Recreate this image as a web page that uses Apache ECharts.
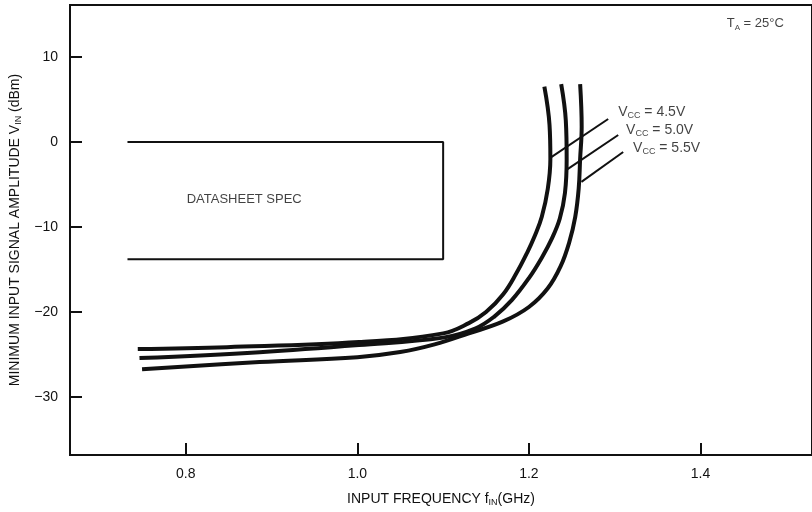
<!DOCTYPE html>
<html>
<head>
<meta charset="utf-8">
<script src="https://cdn.jsdelivr.net/npm/echarts@6/dist/echarts.min.js"></script>
<style>html,body{margin:0;padding:0;background:#fff}#c{width:812px;height:512px}</style>
</head>
<body>
<div id="c"></div>
<script>
// ---- data ----
const xTicks = [0.8, 1.0, 1.2, 1.4];
const yTicks = [-30, -20, -10, 0, 10];
const seriesNames = ['VCC = 4.5V', 'VCC = 5.0V', 'VCC = 5.5V'];
const vcc45 = [[0.744,-24.35],[0.848,-24.12],[1.002,-23.53],[1.10,-22.5],[1.13,-21.3],[1.15,-20.0],[1.17,-17.9],[1.185,-15.5],[1.198,-13.0],[1.207,-11.0],[1.215,-8.8],[1.222,-5.5],[1.225,-2.0],[1.224,2.0],[1.218,6.5]];
const vcc50 = [[0.746,-25.41],[0.886,-24.71],[1.002,-23.88],[1.10,-23.0],[1.138,-21.9],[1.16,-20.5],[1.18,-18.6],[1.20,-16.0],[1.215,-13.6],[1.227,-11.3],[1.236,-9.0],[1.242,-6.0],[1.244,-2.0],[1.243,2.5],[1.2376,6.8]];
const vcc55 = [[0.749,-26.71],[0.886,-25.88],[1.00,-25.3],[1.05,-24.7],[1.09,-23.8],[1.13,-22.5],[1.17,-21.1],[1.20,-19.4],[1.222,-17.2],[1.237,-14.6],[1.247,-11.8],[1.254,-8.8],[1.258,-5.5],[1.2597,-2.0],[1.2615,1.8],[1.2597,6.8]];
const specBox = [[0.732,0],[1.10,0],[1.10,-13.8],[0.732,-13.8]];
const leaders = [
  [[1.2924,2.7],[1.2248,-1.88]],
  [[1.3041,0.82],[1.2438,-3.29]],
  [[1.3099,-1.18],[1.2612,-4.7]]
];
const vccLabels = [[1.304,3.5,'4.5V'],[1.3133,1.4,'5.0V'],[1.3214,-0.7,'5.5V']];
const otherLabels = [[0.801,-6.7,'DATASHEET SPEC']];
const taLabel = [[1.4306,13.9,'25°C']];

const font = "'Liberation Sans', Arial, Helvetica, sans-serif";
const curveStyle = {color:'#111', width:4};
const fmtMinus = v => (v < 0 ? '\u2212' + Math.abs(v) : String(v));

const series = [];
[vcc45, vcc50, vcc55].forEach((d,i) => {
  series.push({type:'line', name:seriesNames[i], data:d, smooth:0.4, showSymbol:false, lineStyle:curveStyle, silent:true});
});
series.push({type:'line', data:specBox, showSymbol:false, lineStyle:{color:'#111', width:2}, silent:true});
leaders.forEach(d => series.push({type:'line', data:d, showSymbol:false, lineStyle:{color:'#111', width:2}, silent:true}));
series.push({type:'scatter', symbolSize:0, silent:true, data:vccLabels,
  label:{show:true, position:'right', distance:0, formatter:p => '{m|V}{s|CC}{m| = ' + p.data[2] + '}',
    rich:{m:{fontFamily:font, fontSize:14, color:'#111', lineHeight:16}, s:{fontFamily:font, fontSize:9, color:'#111', verticalAlign:'bottom', lineHeight:16, padding:[5,0,0,0]}}}});
series.push({type:'scatter', symbolSize:0, silent:true, data:otherLabels,
  label:{show:true, position:'right', distance:0, formatter:p => p.data[2], fontFamily:font, fontSize:13, color:'#111'}});
series.push({type:'scatter', symbolSize:0, silent:true, data:taLabel,
  label:{show:true, position:'right', distance:0, formatter:p => '{m|T}{s|A}{m| = ' + p.data[2] + '}',
    rich:{m:{fontFamily:font, fontSize:13, color:'#111', lineHeight:16}, s:{fontFamily:font, fontSize:8, color:'#111', verticalAlign:'bottom', lineHeight:16, padding:[5,0,0,0]}}}});

const chart = echarts.init(document.getElementById('c'), null, {renderer:'canvas'});
chart.setOption({
  animation:false,
  backgroundColor:'#fff',
  grid:{left:70, right:-3, top:5, bottom:57, show:true, borderColor:'#111', borderWidth:2},
  xAxis:{type:'value', min:0.665, max:1.53,
    axisLine:{show:true, onZero:false, lineStyle:{color:'#111', width:2}},
    axisTick:{show:true, inside:true, length:12, lineStyle:{color:'#111', width:2}, customValues:xTicks},
    axisLabel:{show:true, margin:12, fontFamily:font, fontSize:14, color:'#111', customValues:xTicks, formatter:v => v.toFixed(1)},
    splitLine:{show:false},
    name:'{a|INPUT FREQUENCY f}{s|IN}{a|(GHz)}', nameLocation:'middle', nameGap:36,
    nameTextStyle:{rich:{a:{fontFamily:font, fontSize:14, color:'#111', lineHeight:16}, s:{fontFamily:font, fontSize:9, color:'#111', verticalAlign:'bottom', lineHeight:16, padding:[5,0,0,0]}}}
  },
  yAxis:{type:'value', min:-36.8, max:16.1,
    axisLine:{show:true, onZero:false, lineStyle:{color:'#111', width:2}},
    axisTick:{show:true, inside:true, length:12, lineStyle:{color:'#111', width:2}, customValues:yTicks},
    axisLabel:{show:true, margin:12, fontFamily:font, fontSize:14, color:'#111', customValues:yTicks, formatter:fmtMinus},
    splitLine:{show:false},
    name:'{a|MINIMUM INPUT SIGNAL AMPLITUDE V}{s|IN}{a| (dBm)}', nameLocation:'middle', nameGap:46,
    nameTextStyle:{rich:{a:{fontFamily:font, fontSize:14, color:'#111', lineHeight:16}, s:{fontFamily:font, fontSize:9, color:'#111', verticalAlign:'bottom', lineHeight:16, padding:[5,0,0,0]}}}
  },
  series:series
});
</script>
</body>
</html>
